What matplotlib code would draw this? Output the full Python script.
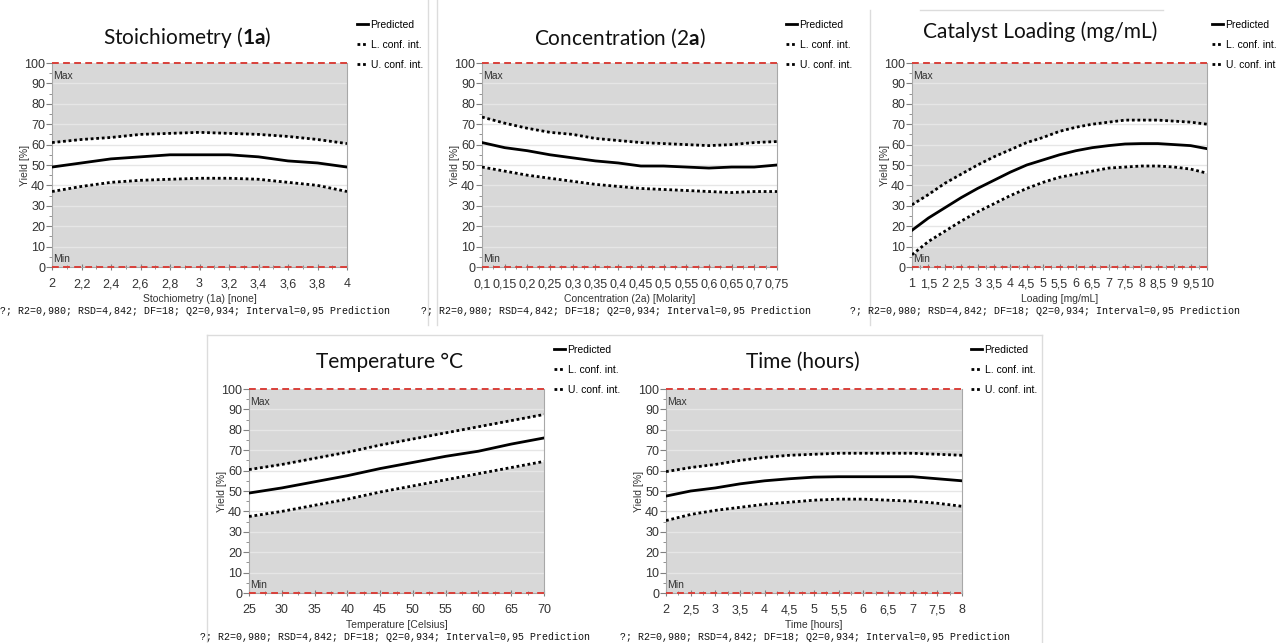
import matplotlib
matplotlib.use("Agg")
import matplotlib.pyplot as plt
from matplotlib.ticker import MultipleLocator, FixedLocator
from matplotlib.lines import Line2D

W, H = 1276, 643

# ---------------- data ----------------
stoich_x = [2, 2.2, 2.4, 2.6, 2.8, 3, 3.2, 3.4, 3.6, 3.8, 4]
stoich_pred = [49, 51, 53, 54, 55, 55, 55, 54, 52, 51, 49]
stoich_up = [61, 62.5, 63.5, 65, 65.5, 66, 65.5, 65, 64, 62.5, 60.5]
stoich_lo = [37, 39.5, 41.5, 42.5, 43, 43.5, 43.5, 43, 41.5, 40, 37]
stoich_ticks = [2, 2.2, 2.4, 2.6, 2.8, 3, 3.2, 3.4, 3.6, 3.8, 4]
stoich_labels = ["2", "2,2", "2,4", "2,6", "2,8", "3", "3,2", "3,4", "3,6", "3,8", "4"]

conc_x = [0.1, 0.15, 0.2, 0.25, 0.3, 0.35, 0.4, 0.45, 0.5, 0.55, 0.6, 0.65, 0.7, 0.75]
conc_pred = [61, 58.5, 57, 55, 53.5, 52, 51, 49.5, 49.5, 49, 48.5, 49, 49, 50]
conc_up = [73.5, 70.5, 68, 66, 65, 63, 62, 61, 60.5, 60, 59.5, 60, 61, 61.5]
conc_lo = [49, 47, 45, 43.5, 42, 40.5, 39.5, 38.5, 38, 37.5, 37, 36.5, 37, 37]
conc_ticks = conc_x
conc_labels = ["0,1", "0,15", "0,2", "0,25", "0,3", "0,35", "0,4", "0,45", "0,5",
               "0,55", "0,6", "0,65", "0,7", "0,75"]

load_x = [1, 1.5, 2, 2.5, 3, 3.5, 4, 4.5, 5, 5.5, 6, 6.5, 7, 7.5, 8, 8.5, 9, 9.5, 10]
load_pred = [18, 24, 29, 34, 38.5, 42.5, 46.5, 50, 52.5, 55, 57, 58.5, 59.5, 60.3, 60.5,
             60.5, 60, 59.5, 58]
load_up = [30.5, 35.5, 41, 45.5, 50, 54, 57.5, 61, 63.5, 66.5, 68.5, 70, 71, 72, 72, 72,
           71.5, 71, 70]
load_lo = [6, 12.5, 17.5, 22.5, 27, 31, 35, 38.5, 41.5, 44, 45.5, 47, 48.5, 49, 49.5, 49.5,
           49, 48, 46]
load_ticks = load_x
load_labels = ["1", "1,5", "2", "2,5", "3", "3,5", "4", "4,5", "5", "5,5", "6", "6,5", "7",
               "7,5", "8", "8,5", "9", "9,5", "10"]

temp_x = [25, 30, 35, 40, 45, 50, 55, 60, 65, 70]
temp_pred = [49, 51.5, 54.5, 57.5, 61, 64, 67, 69.5, 73, 76]
temp_up = [60.5, 63, 66, 69, 72.5, 75.5, 78.5, 81.5, 84.5, 87.5]
temp_lo = [37.5, 40, 43, 46, 49.5, 52.5, 55.5, 58.5, 61.5, 64.5]
temp_ticks = temp_x
temp_labels = ["25", "30", "35", "40", "45", "50", "55", "60", "65", "70"]

time_x = [2, 2.5, 3, 3.5, 4, 4.5, 5, 5.5, 6, 6.5, 7, 7.5, 8]
time_pred = [47.5, 50, 51.5, 53.5, 55, 56, 56.8, 57, 57, 57, 57, 56, 55]
time_up = [59.5, 61.5, 63, 65, 66.5, 67.5, 68, 68.5, 68.5, 68.5, 68.5, 68, 67.5]
time_lo = [35.5, 38.5, 40.5, 42, 43.5, 44.5, 45.5, 46, 46, 45.5, 45, 44, 42.5]
time_ticks = time_x
time_labels = ["2", "2,5", "3", "3,5", "4", "4,5", "5", "5,5", "6", "6,5", "7", "7,5", "8"]

stats_text = "?; R2=0,980; RSD=4,842; DF=18; Q2=0,934; Interval=0,95 Prediction"

# ---------------- figure ----------------
plt.rcParams["mathtext.fontset"] = "custom"
plt.rcParams["mathtext.rm"] = "Lato"
plt.rcParams["mathtext.bf"] = "Lato:bold"

fig = plt.figure(figsize=(W / 100, H / 100), dpi=100)
fig.patch.set_facecolor("white")

TITLE_FONT = ["Lato", "DejaVu Sans"]
SMALL_FONT = ["Liberation Sans Narrow", "Liberation Sans", "DejaVu Sans"]
MONO_FONT = ["Liberation Mono", "DejaVu Sans Mono"]


def fx(x):
    return x / W


def fy(y):
    return 1 - y / H


def line_px(x0, y0, x1, y1):
    fig.add_artist(Line2D([fx(x0), fx(x1)], [fy(y0), fy(y1)], color="#dcdcdc", lw=1,
                          transform=fig.transFigure))


def panel(left, right, top, bottom, xs, pred, up, lo, ticks, labels, minor,
          title_parts, title_cx, title_y, xlabel, legend_x, legend_y, stats_x):
    ax = fig.add_axes([fx(left), fy(bottom), fx(right - left), (bottom - top) / H])
    ax.set_facecolor("#d8d8d8")
    ax.set_xlim(xs[0], xs[-1])
    ax.set_ylim(0, 100)
    ax.fill_between(xs, lo, up, color="white", zorder=1, lw=0)
    for g in range(10, 100, 10):
        ax.axhline(g, color="#e6e6e6", lw=1, zorder=1.5)
    ax.axhline(100, color="#d9403a", lw=1.4, ls=(0, (3.5, 2.2)), zorder=4, clip_on=False)
    ax.axhline(0, color="#d9403a", lw=1.4, ls=(0, (3.5, 2.2)), zorder=4, clip_on=False)
    h1, = ax.plot(xs, pred, color="black", lw=2, zorder=3, label="Predicted")
    h2, = ax.plot(xs, lo, color="black", lw=2, ls=(0, (1, 1)), zorder=3, label="L. conf. int.")
    h3, = ax.plot(xs, up, color="black", lw=2, ls=(0, (1, 1)), zorder=3, label="U. conf. int.")
    for s in ax.spines.values():
        s.set_color("#a8a8a8")
        s.set_linewidth(0.8)
    ax.spines["top"].set_visible(False)
    ax.yaxis.set_major_locator(MultipleLocator(10))
    ax.yaxis.set_minor_locator(MultipleLocator(5))
    ax.xaxis.set_major_locator(FixedLocator(ticks))
    ax.set_xticklabels(labels)
    ax.xaxis.set_minor_locator(MultipleLocator(minor))
    ax.tick_params(axis="both", which="both", colors="#808080", labelcolor="#333333",
                   labelsize=8)
    ax.tick_params(axis="y", which="major", length=4, pad=1)
    ax.tick_params(axis="y", which="minor", length=2)
    ax.tick_params(axis="x", which="major", length=4, direction="inout", pad=6)
    ax.tick_params(axis="x", which="minor", length=3, direction="inout")
    for lab in ax.get_xticklabels() + ax.get_yticklabels():
        lab.set_fontfamily(SMALL_FONT)
        lab.set_fontsize(9)
    ax.set_ylabel("Yield [%]", fontsize=7.5, family=SMALL_FONT, color="#333333", labelpad=-4)
    ax.set_xlabel(xlabel, fontsize=7.5, family=SMALL_FONT, color="#333333", labelpad=3)
    ax.text(0.005, 96, "Max", transform=ax.get_yaxis_transform(), fontsize=7.5,
            family=SMALL_FONT, color="#333333", va="top", ha="left", zorder=5)
    ax.text(0.005, 1.5, "Min", transform=ax.get_yaxis_transform(), fontsize=7.5,
            family=SMALL_FONT, color="#333333", va="bottom", ha="left", zorder=5)
    fig.text(fx(title_cx), fy(title_y), title_parts, fontsize=15, family=TITLE_FONT,
             ha="center", va="center", color="#111111")
    ax.legend(handles=[h1, h2, h3], loc="upper left", frameon=False,
              bbox_to_anchor=(fx(legend_x), fy(legend_y)), bbox_transform=fig.transFigure,
              handlelength=1.1, handletextpad=0.2, labelspacing=0.95,
              borderpad=0, borderaxespad=0, prop={"family": SMALL_FONT, "size": 7.5})
    fig.text(fx(stats_x), fy(bottom + 44), stats_text, fontsize=7.2, family=MONO_FONT,
             ha="left", va="center", color="#111111")
    return ax


# panel frames
line_px(428, 0, 428, 325)
line_px(437, 0, 437, 325)
line_px(870, 10, 870, 325)
line_px(920, 10, 1163, 10)
line_px(207, 335, 1042, 335)
line_px(207, 335, 207, 643)
line_px(1042, 335, 1042, 643)

panel(52, 347, 63, 267, stoich_x, stoich_pred, stoich_up, stoich_lo, stoich_ticks,
      stoich_labels, 0.1, r"Stoichiometry ($\mathbf{1a}$)", 187, 38,
      "Stochiometry (1a) [none]", 357, 20, 0)
panel(482, 777, 63, 267, conc_x, conc_pred, conc_up, conc_lo, conc_ticks, conc_labels,
      0.025, r"Concentration (2$\mathbf{a}$)", 620, 38, "Concentration (2a) [Molarity]",
      786, 20, 421)
panel(912, 1207, 63, 267, load_x, load_pred, load_up, load_lo, load_ticks, load_labels,
      0.25, "Catalyst Loading (mg/mL)", 1040, 32, "Loading [mg/mL]", 1212, 20, 850)
panel(249, 544, 389, 593, temp_x, temp_pred, temp_up, temp_lo, temp_ticks, temp_labels,
      2.5, "Temperature °C", 389, 362, "Temperature [Celsius]", 554, 345, 200)
panel(666, 962, 389, 593, time_x, time_pred, time_up, time_lo, time_ticks, time_labels,
      0.25, "Time (hours)", 803, 362, "Time [hours]", 971, 345, 620)

fig.savefig("out.png", dpi=100, facecolor="white")
